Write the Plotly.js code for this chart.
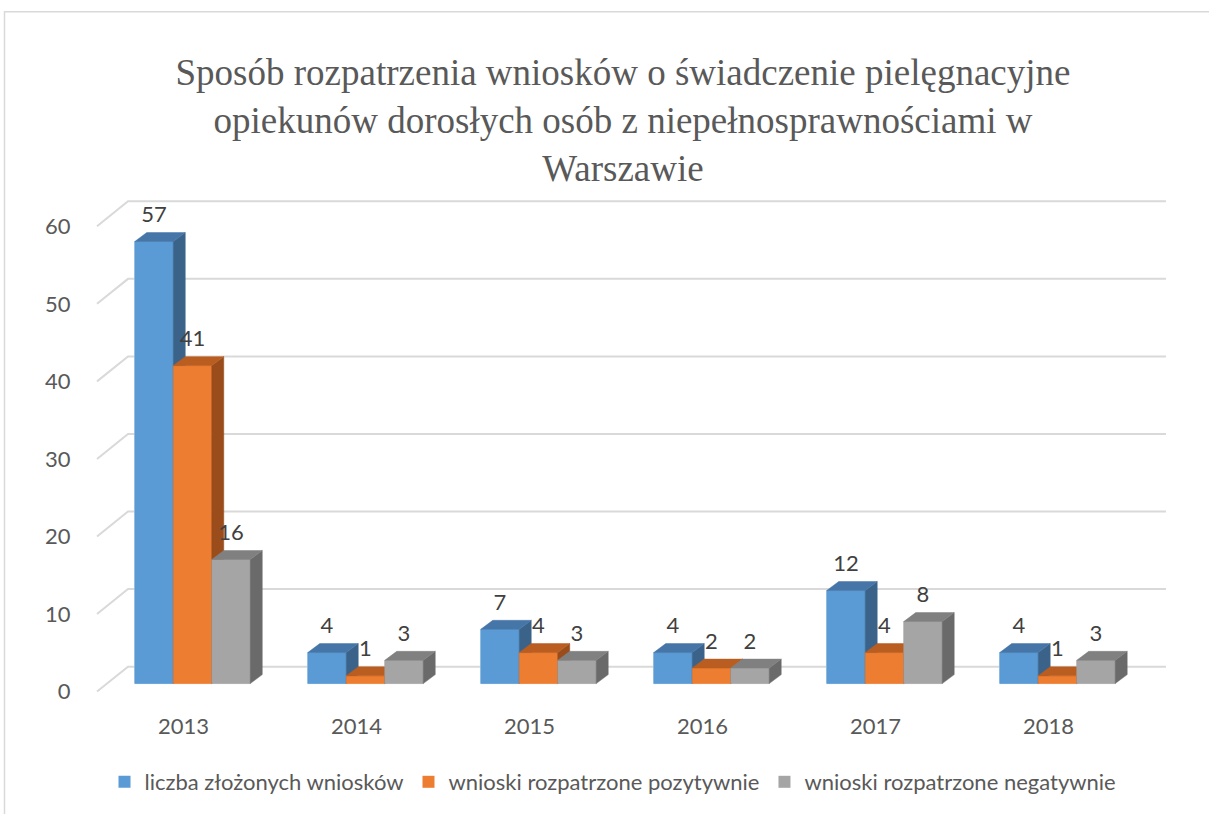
<!DOCTYPE html>
<html><head><meta charset="utf-8">
<script src="https://cdn.plot.ly/plotly-3.0.1.min.js"></script>
<style>html,body{margin:0;padding:0;background:#fff}#chart{width:1209px;height:814px}</style>
</head><body><div id="chart"></div>
<script>
// ---- data ----
const categories = ['2013', '2014', '2015', '2016', '2017', '2018'];
const liczbaZlozonych = [57, 4, 7, 4, 12, 4];
const pozytywne = [41, 1, 4, 2, 4, 1];
const negatywne = [16, 3, 3, 2, 8, 3];
const seriesNames = ['liczba złożonych wniosków', 'wnioski rozpatrzone pozytywnie', 'wnioski rozpatrzone negatywnie'];
const yTickValues = [0, 10, 20, 30, 40, 50, 60];
const titleText = 'Sposób rozpatrzenia wniosków o świadczenie pielęgnacyjne<br>opiekunów dorosłych osób z niepełnosprawnościami w<br>Warszawie';

// ---- styles / geometry ----
const W = 1209, H = 814;
const M = {l: 94, r: 41, t: 195, b: 117};
const xRange = [-0.5694, 5.639];
const yRange = [-1.6, 63];
const pxX = (W - M.l - M.r) / (xRange[1] - xRange[0]);
const pxY = (H - M.t - M.b) / (yRange[1] - yRange[0]);
const barDepth = {dx: 12, dy: 9};
const floorFront = {dx: -9, dy: -8};
const floorBack = {dx: 22, dy: 17};
const bargap = 0.3324;
const labelLift = 25;
const fontSize = 22;
const colors = {
  front: ['#5b9bd5', '#ed7d31', '#a5a5a5'],
  top:   ['#4676a8', '#b95d20', '#808080'],
  side:  ['#3b638a', '#9a4c1b', '#6a6a6a']
};
const textColor = '#595959';
const gridColor = '#d9d9d9';

const series = [liczbaZlozonych, pozytywne, negatywne];
const nS = series.length;
const barW = (1 - bargap) / nS;
const ddx = barDepth.dx / pxX, ddy = barDepth.dy / pxY;
const xIdx = categories.map((c, i) => i);

const traces = [];
// legend-carrying real bars
series.forEach((vals, s) => {
  traces.push({
    type: 'bar', x: xIdx, y: vals, name: seriesNames[s],
    marker: {color: colors.front[s], line: {width: 0}},
    hoverinfo: 'skip'
  });
});

// grid lines (back wall + floor diagonal)
const gx = [], gy = [];
const xFL = -0.5 + floorFront.dx / pxX, xBL = -0.5 + floorBack.dx / pxX, xBR = categories.length - 0.5 + floorBack.dx / pxX;
yTickValues.forEach(v => {
  gx.push(xFL, xBL, xBR, null);
  gy.push(v + floorFront.dy / pxY, v + floorBack.dy / pxY, v + floorBack.dy / pxY, null);
});
traces.push({type: 'scatter', mode: 'lines', x: gx, y: gy, line: {color: gridColor, width: 2},
  showlegend: false, hoverinfo: 'skip'});

function poly(kind, s) {
  const xs = [], ys = [];
  series[s].forEach((h, i) => {
    const L = i + (s - nS / 2) * barW, R = L + barW;
    let px, py;
    if (kind === 'front') { px = [L, L, R, R]; py = [0, h, h, 0]; }
    else if (kind === 'side') { px = [R, R + ddx, R + ddx, R]; py = [0, ddy, h + ddy, h]; }
    else { px = [L, L + ddx, R + ddx, R]; py = [h, h + ddy, h + ddy, h]; }
    xs.push(...px, px[0], null); ys.push(...py, py[0], null);
  });
  return {type: 'scatter', mode: 'lines', x: xs, y: ys, fill: 'toself',
    fillcolor: colors[kind][s], line: {color: colors[kind][s], width: 0.5},
    showlegend: false, hoverinfo: 'skip'};
}
for (let s = 0; s < nS; s++) {
  traces.push(poly('front', s), poly('side', s), poly('top', s));
}
// data labels
series.forEach((vals, s) => {
  traces.push({type: 'scatter', mode: 'text',
    x: xIdx.map(i => i + (s - (nS - 1) / 2) * barW),
    y: vals.map(v => v + labelLift / pxY),
    text: vals.map(String), textposition: 'middle center',
    textfont: {family: 'Lato, sans-serif', size: fontSize, color: '#404040'},
    showlegend: false, hoverinfo: 'skip', cliponaxis: false});
});

const plotW = W - M.l - M.r, plotH = H - M.t - M.b;
const px2paperX = p => (p - M.l) / plotW;
const px2paperY = p => (H - M.b - p) / plotH;

const layout = {
  width: W, height: H, margin: M,
  paper_bgcolor: '#ffffff', plot_bgcolor: 'rgba(0,0,0,0)',
  barmode: 'group', bargap: bargap, bargroupgap: 0,
  font: {family: 'Lato, sans-serif', color: textColor},
  title: {text: titleText, font: {family: 'Liberation Serif, Times New Roman, serif', size: 37, color: textColor},
    xref: 'container', x: 623 / W, xanchor: 'center', yref: 'container', y: 1 - 85 / H, yanchor: 'middle'},
  xaxis: {range: xRange, showgrid: false, zeroline: false, showline: false,
    tickvals: xIdx.map(i => i + floorFront.dx / pxX), ticktext: categories,
    ticks: 'outside', ticklen: 11, tickcolor: 'rgba(0,0,0,0)',
    tickfont: {family: 'Lato, sans-serif', size: fontSize, color: textColor}, fixedrange: true},
  yaxis: {range: yRange, showgrid: false, zeroline: false, showline: false,
    tickvals: yTickValues.map(v => v + floorFront.dy / pxY), ticktext: yTickValues.map(String),
    ticks: 'outside', ticklen: 18, tickcolor: 'rgba(0,0,0,0)',
    tickfont: {family: 'Lato, sans-serif', size: fontSize, color: textColor}, fixedrange: true},
  legend: {orientation: 'h', x: px2paperX(613), xanchor: 'center', y: px2paperY(782), yanchor: 'middle',
    font: {family: 'Lato, sans-serif', size: fontSize, color: textColor}, traceorder: 'normal'},
  shapes: [
    {type: 'line', xref: 'paper', yref: 'paper', x0: px2paperX(4), x1: px2paperX(W + 10), y0: px2paperY(11.5), y1: px2paperY(11.5), line: {color: gridColor, width: 1.5}},
    {type: 'line', xref: 'paper', yref: 'paper', x0: px2paperX(4.5), x1: px2paperX(4.5), y0: px2paperY(11), y1: px2paperY(H + 10), line: {color: gridColor, width: 1.5}}
  ],
  showlegend: true
};
Plotly.newPlot('chart', traces, layout, {displayModeBar: false, staticPlot: true});
</script></body></html>
